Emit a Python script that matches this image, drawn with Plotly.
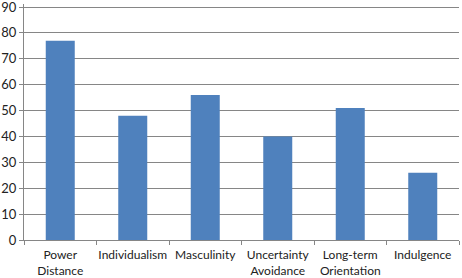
import plotly.graph_objects as go

categories = ["Power<br>Distance", "Individualism", "Masculinity", "Uncertainty<br>Avoidance", "Long-term<br>Orientation", "Indulgence"]
values = [77, 48, 56, 40, 51, 26]
y_ticks = [0, 10, 20, 30, 40, 50, 60, 70, 80, 90]

fig = go.Figure(go.Bar(x=categories, y=values, marker=dict(color="#4F81BD", line=dict(width=0)), width=0.4))

fig.update_layout(
    width=462, height=278,
    margin=dict(l=24, r=3, t=4, b=38, autoexpand=False),
    plot_bgcolor="white", paper_bgcolor="white",
    showlegend=False,
    font=dict(family="Lato, Open Sans, sans-serif", color="#222222"),
)
fig.update_xaxes(
    showline=True, linecolor="#868686", linewidth=1,
    ticks="outside", tickson="boundaries", ticklen=4, tickcolor="#868686",
    tickfont=dict(size=12), tickangle=0, showgrid=False, automargin=False,
    ticklabelstandoff=4,
)
fig.update_yaxes(
    range=[0, 91.16], tickvals=y_ticks, ticktext=[str(v) for v in y_ticks],
    showline=True, linecolor="#868686", linewidth=1,
    ticks="outside", ticklen=4, tickcolor="#868686",
    showgrid=True, gridcolor="#868686", gridwidth=1,
    tickfont=dict(size=13), zeroline=False, automargin=False,
    ticklabeloverflow="allow",
)
fig.write_html("out.html", config={"displayModeBar": False},
               post_script="document.body.style.margin='0';document.body.style.overflow='hidden';")
